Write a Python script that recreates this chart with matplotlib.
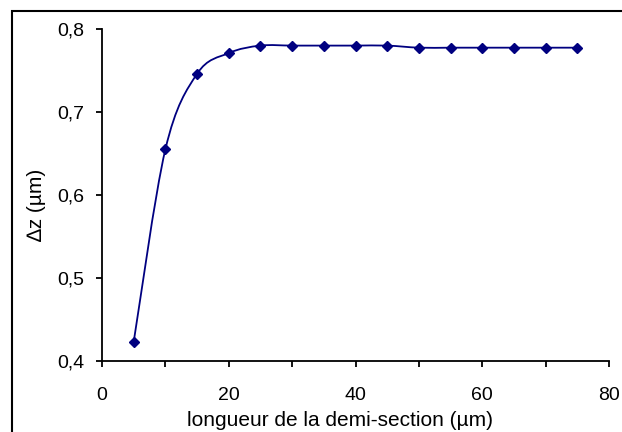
import numpy as np
import matplotlib.pyplot as plt
from matplotlib.path import Path
from matplotlib.patches import PathPatch, Rectangle

plt.rcParams['font.family'] = ['Liberation Sans', 'DejaVu Sans']

# data
longueur = [5, 10, 15, 20, 25, 30, 35, 40, 45, 50, 55, 60, 65, 70, 75]
dz = [0.423, 0.655, 0.746, 0.771, 0.780, 0.780, 0.780, 0.780, 0.780,
      0.7775, 0.7775, 0.7775, 0.7775, 0.7775, 0.7775]
xticks = [0, 20, 40, 60, 80]
yticks = [0.4, 0.5, 0.6, 0.7, 0.8]
ytick_labels = ['0,4', '0,5', '0,6', '0,7', '0,8']

navy = '#000080'
fs = 14

fig = plt.figure(figsize=(6.22, 4.32), dpi=100)
ax = fig.add_axes([102/622, 71/432, 507/622, 332/432])

# smoothed line (Excel style bezier through the points)
P = np.column_stack([longueur, dz])
verts = [P[0]]
codes = [Path.MOVETO]
n = len(P)
for i in range(n - 1):
    p0 = P[max(i - 1, 0)]
    p1 = P[i]
    p2 = P[i + 1]
    p3 = P[min(i + 2, n - 1)]
    c1 = p1 + (p2 - p0) / 6
    c2 = p2 - (p3 - p1) / 6
    verts += [c1, c2, p2]
    codes += [Path.CURVE4] * 3
ax.add_patch(PathPatch(Path(verts, codes), facecolor='none', edgecolor=navy, lw=1.3))
ax.plot(longueur, dz, 'D', color=navy, markersize=5.5)

ax.set_xlim(0, 80)
ax.set_ylim(0.4, 0.8)
ax.set_xticks(xticks)
ax.set_xticks(range(0, 81, 10), minor=True)
ax.set_yticks(yticks)
ax.set_yticklabels(ytick_labels)
ax.spines['top'].set_visible(False)
ax.spines['right'].set_visible(False)
for s in ['left', 'bottom']:
    ax.spines[s].set_linewidth(1.3)
ax.tick_params(axis='x', which='both', direction='out', length=4, width=1.3,
               labelsize=fs, pad=15)
ax.tick_params(axis='y', direction='out', length=4, width=1.3, labelsize=fs, pad=9)

fig.text(340/622, 1 - 421/432, 'longueur de la demi-section (µm)', ha='center', va='center',
         fontsize=15)
fig.text(36/622, 1 - 205/432, '∆z (µm)', ha='center', va='center', rotation=90,
         fontsize=15)

# chart area border (cut off at right and bottom)
fig.patches.append(Rectangle((12/622, -0.1), 1.0, 1 - 11/432 + 0.1, transform=fig.transFigure,
                             fill=False, edgecolor='black', lw=1.5))

fig.savefig('out.png', dpi=100)
